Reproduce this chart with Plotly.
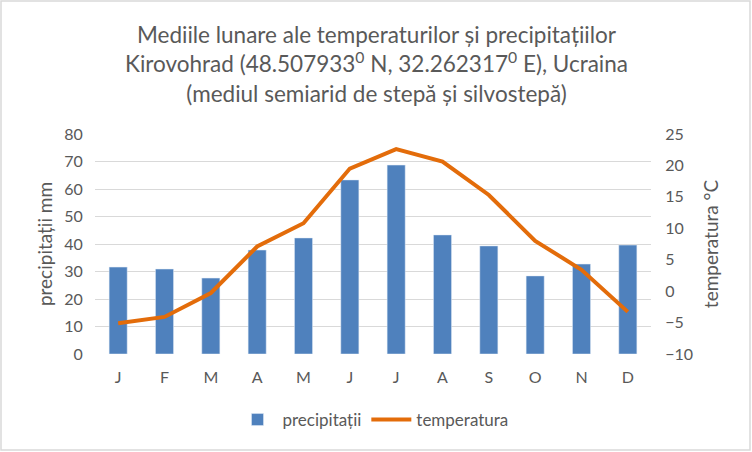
import plotly.graph_objects as go

months = ["J", "F", "M", "A", "M", "J", "J", "A", "S", "O", "N", "D"]
precipitatii = [31.6, 30.9, 27.6, 37.8, 42.2, 63.3, 68.7, 43.3, 39.3, 28.4, 32.7, 39.6]
temperatura = [-5.1, -4.1, -0.3, 7.1, 10.8, 19.5, 22.6, 20.6, 15.3, 8.0, 3.4, -3.3]

x_idx = list(range(len(months)))
grey = "#595959"
font = "Lato"

fig = go.Figure()
fig.add_trace(go.Bar(
    x=x_idx, y=precipitatii, name="precipitații",
    marker_color="#4F81BD", width=0.39,
))
fig.add_trace(go.Scatter(
    x=x_idx, y=temperatura, name="temperatura", yaxis="y2",
    mode="lines", line=dict(color="#E36C0A", width=4),
))

W, H = 752, 452
L, R, T, B = 95, 101, 134, 98
pw, ph = W - L - R, H - T - B

def py(pix):
    # pixel row -> paper y
    return (T + ph - pix) / ph

def px_(pix):
    return (pix - L) / pw

fig.update_layout(
    width=W, height=H,
    margin=dict(l=L, r=R, t=T, b=B),
    paper_bgcolor="white", plot_bgcolor="white",
    font=dict(family=font, color=grey, size=16),
    xaxis=dict(
        tickmode="array", tickvals=x_idx, ticktext=months,
        range=[-0.5, 11.5], showgrid=False, zeroline=False,
        showline=False, ticks="outside", ticklen=9, tickcolor="rgba(0,0,0,0)",
        tickfont=dict(size=16, color=grey),
    ),
    yaxis=dict(
        range=[0, 80], dtick=10, showgrid=True, gridcolor="#D9D9D9", gridwidth=1,
        zeroline=False, showline=False,
        title=dict(text="precipitații mm", font=dict(size=19, color=grey), standoff=6),
        ticks="outside", ticklen=8, tickcolor="rgba(0,0,0,0)",
        tickfont=dict(size=16, color=grey),
    ),
    yaxis2=dict(
        range=[-10, 25], dtick=5, overlaying="y", side="right",
        showgrid=False, zeroline=False, showline=False,
        title=dict(text="temperatura °C", font=dict(size=19, color=grey), standoff=12),
        ticks="outside", ticklen=10, tickcolor="rgba(0,0,0,0)",
        tickfont=dict(size=16, color=grey),
    ),
    legend=dict(
        orientation="h", x=0.5, xanchor="center", y=py(420), yanchor="middle",
        font=dict(size=17, color=grey), traceorder="normal", itemwidth=40,
    ),
    showlegend=True,
)

fig.add_annotation(
    text="Mediile lunare ale temperaturilor și precipitațiilor<br>"
         "Kirovohrad (48.507933<sup>0</sup> N, 32.262317<sup>0</sup> E), Ucraina<br>"
         "(mediul semiarid de stepă și silvostepă)",
    xref="paper", yref="paper", x=px_(376), y=py(19), xanchor="center", yanchor="top",
    showarrow=False, font=dict(size=22.5, color=grey, family=font), align="center",
)

fig.add_shape(
    type="rect", xref="paper", yref="paper",
    x0=px_(1), x1=px_(W - 2), y0=py(H - 2), y1=py(1),
    line=dict(color="#D9D9D9", width=1.5), fillcolor="rgba(0,0,0,0)",
    layer="below",
)

fig.write_html("out.html", config={"displayModeBar": False},
               post_script="document.body.style.margin='0px';")
